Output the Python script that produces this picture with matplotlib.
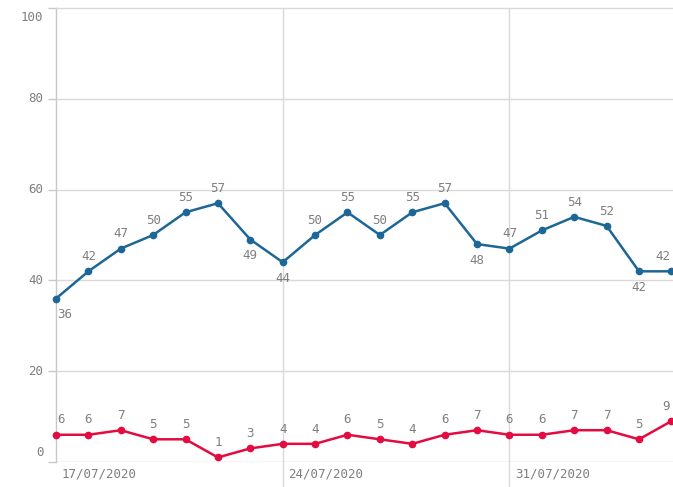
import matplotlib
matplotlib.use("Agg")
import matplotlib.pyplot as plt
import matplotlib.dates as mdates
import pandas as pd

# datos
dates = pd.date_range("2020-07-17", periods=20, freq="D")
blue_vals = [36, 42, 47, 50, 55, 57, 49, 44, 50, 55, 50, 55, 57, 48, 47, 51, 54, 52, 42, 42]
red_vals = [6, 6, 7, 5, 5, 1, 3, 4, 4, 6, 5, 4, 6, 7, 6, 6, 7, 7, 5, 9]
y_ticks = [0, 20, 40, 60, 80, 100]
x_label_dates = ["2020-07-17", "2020-07-24", "2020-07-31"]

BLUE = "#1d6797"
RED = "#e30b40"
GRID = "#d9d9d9"
TXT = "#7f7f7f"
FONT = "DejaVu Sans Mono"

W, H = 673, 487
fig = plt.figure(figsize=(W / 100, H / 100), dpi=100)
left, right, top, bottom = 56, 673, 8, 462
ax = fig.add_axes([left / W, (H - bottom) / H, (right - left) / W, (bottom - top) / H])

x0 = mdates.date2num(dates[0])
x1 = mdates.date2num(dates[-1])
ax.set_xlim(x0, x1 + 0.05)
ax.set_ylim(0, 100)

for s in ["right", "bottom"]:
    ax.spines[s].set_visible(False)
ax.spines["left"].set_color("#c8c8c8")
ax.spines["top"].set_color(GRID)
ax.spines["left"].set_linewidth(1)
ax.spines["top"].set_linewidth(1)

# lineas horizontales
for v in y_ticks[:-1]:
    ax.axhline(v, color=GRID if v else "#c8c8c8", lw=1, zorder=0)
ax.set_yticks(y_ticks)
ax.set_yticklabels([])
ax.tick_params(axis="y", length=6, color="#c8c8c8", width=1)
for v in y_ticks:
    va = "center"
    dy = 0
    if v == 0:
        va, dy = "bottom", 2
    elif v == 100:
        va, dy = "top", -2
    ax.annotate(str(v), xy=(0, v), xycoords=("axes fraction", "data"),
                xytext=(-9, dy), textcoords="offset points", ha="right", va=va,
                fontsize=9, color=TXT, family=FONT)

# lineas verticales y fechas
ax.set_xticks([])
for d in x_label_dates:
    xd = mdates.date2num(pd.Timestamp(d))
    if xd > x0:
        ax.axvline(xd, ymin=-25 / 454, ymax=1, color=GRID, lw=1, zorder=0, clip_on=False)
    ax.annotate(pd.Timestamp(d).strftime("%d/%m/%Y"), xy=(xd, 0), xycoords=("data", "axes fraction"),
                xytext=(4, -4), textcoords="offset points", ha="left", va="top",
                fontsize=9, color=TXT, family=FONT)

ax.plot(dates, blue_vals, color=BLUE, lw=1.8, marker="o", ms=4.5, clip_on=False, zorder=3)
ax.plot(dates, red_vals, color=RED, lw=1.8, marker="o", ms=4.5, clip_on=False, zorder=3)


def halign(i, n):  # los extremos se desplazan hacia dentro
    if i == 0:
        return "left", 1
    if i == n - 1:
        return "right", -1
    return "center", 0


below = [0, 6, 7, 13, 18]
for i, (d, v) in enumerate(zip(dates, blue_vals)):
    ha, dx = halign(i, len(blue_vals))
    off = -7 if i in below else 6
    ax.annotate(str(v), xy=(d, v), xytext=(dx, off), textcoords="offset points",
                ha=ha, va="top" if i in below else "bottom",
                fontsize=9, color=TXT, family=FONT, annotation_clip=False)
for i, (d, v) in enumerate(zip(dates, red_vals)):
    ha, dx = halign(i, len(red_vals))
    ax.annotate(str(v), xy=(d, v), xytext=(dx, 6), textcoords="offset points",
                ha=ha, va="bottom", fontsize=9, color=TXT, family=FONT,
                annotation_clip=False)

fig.savefig("out.png", dpi=100)
